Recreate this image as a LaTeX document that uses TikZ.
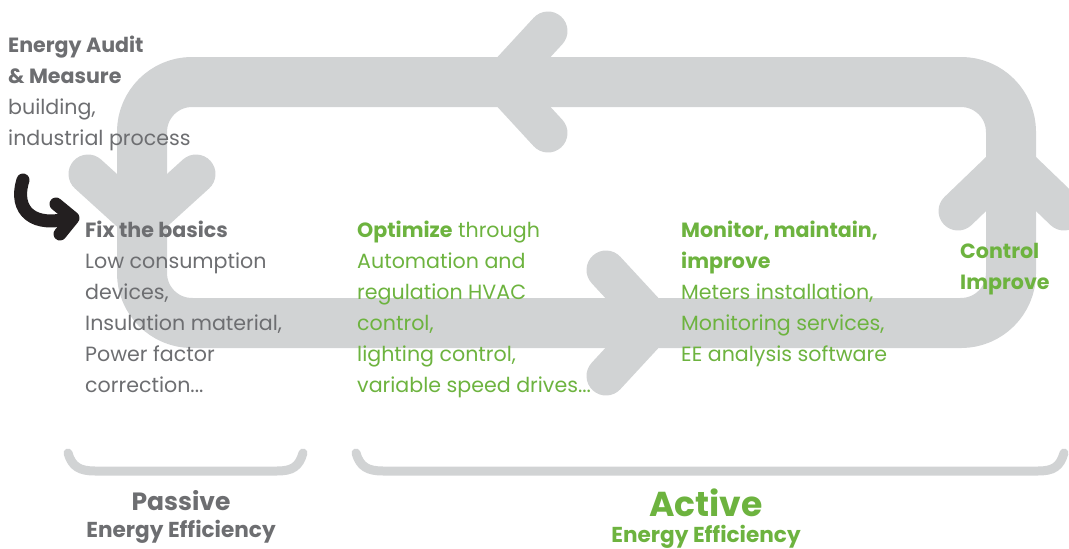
\documentclass[tikz,border=0pt]{standalone}
\usepackage{fontspec}
\setmainfont{Poppins}
\definecolor{bandgrey}{HTML}{D1D3D4}
\definecolor{textgrey}{HTML}{6D6E71}
\definecolor{effgreen}{HTML}{6DB33F}
\definecolor{hookblack}{HTML}{231F20}
\tikzset{
	band/.style={draw=bandgrey, line width=50pt},
	chevron/.style={draw=bandgrey, line width=39pt, line cap=round},
	brace/.style={draw=bandgrey, line width=9pt, line cap=round},
	txt/.style={anchor=base west, inner sep=0pt, align=left, font=\fontsize{20.6}{31}\selectfont},
	label/.style={anchor=base, inner sep=0pt, font=\bfseries\fontsize{21.6}{21.6}\selectfont},
}

\begin{document}
\begin{tikzpicture}[x=1pt,y=-1pt]
			\useasboundingbox (0,0) rectangle (1069,549);
			\draw[band, rounded corners=50pt] (142,82) rectangle (1011,323);
			\draw[chevron] (548,31) -- (501,82) -- (548,133);
			\draw[chevron] (88,174) -- (142,223) -- (196,174);
			\draw[chevron] (606,270) -- (655,323) -- (606,376);
			\draw[chevron] (958,211) -- (1011,160) -- (1064,211);
			\draw[hookblack, line width=13pt, line cap=round, line join=round] (23,180) .. controls (13,212) and (35,228) .. (70,218);
			\draw[hookblack, line width=13pt, line cap=round, line join=round] (56,204) -- (73,218) -- (60,234);
			\node[txt, text=textgrey] (audit) at (8,145) {\textbf{Energy Audit}\\\textbf{\& Measure}\\building,\\industrial process};
			\node[txt, text=textgrey] (basics) at (85,392) {\textbf{Fix the basics}\\Low consumption\\devices,\\Insulation material,\\Power factor\\correction...};
			\node[txt, text=effgreen] (optimize) at (357,392) {\textbf{Optimize} through\\Automation and\\regulation HVAC\\control,\\lighting control,\\variable speed drives...};
			\node[txt, text=effgreen] (monitor) at (681,361) {\textbf{Monitor, maintain,}\\\textbf{improve}\\Meters installation,\\Monitoring services,\\EE analysis software};
			\node[txt, text=effgreen] (control) at (960,289) {\textbf{Control}\\\textbf{Improve}};
			\draw[brace] (68,453) .. controls (72,467) and (80,471) .. (95,471) -- (277,471) .. controls (292,471) and (299,467) .. (303,453);
			\draw[brace] (356,453) .. controls (360,467) and (368,471) .. (383,471) -- (1038,471) .. controls (1053,471) and (1060,467) .. (1064,453);
			\node[label, text=textgrey, font=\bfseries\fontsize{25}{25}\selectfont] (passive) at (181,510) {Passive};
			\node[label, text=textgrey] (passivesub) at (181,537) {Energy Efficiency};
			\node[label, text=effgreen, font=\bfseries\fontsize{34.6}{34.6}\selectfont] (active) at (706,516) {Active};
			\node[label, text=effgreen] (activesub) at (706,542) {Energy Efficiency};
		\end{tikzpicture}
\end{document}
